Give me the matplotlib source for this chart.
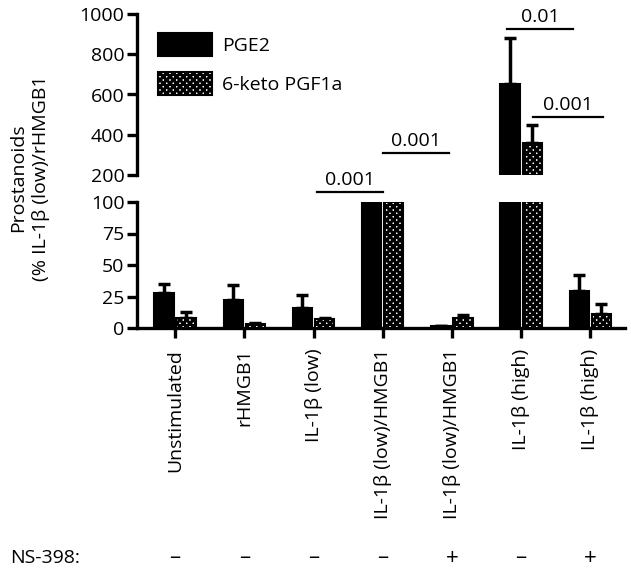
import numpy as np
import matplotlib.pyplot as plt

plt.rcParams['font.family'] = ['Open Sans', 'DejaVu Sans']
plt.rcParams['font.size'] = 14
plt.rcParams['hatch.linewidth'] = 2.2

groups = ["Unstimulated", "rHMGB1", "IL-1β (low)", "IL-1β (low)/HMGB1",
          "IL-1β (low)/HMGB1", "IL-1β (high)", "IL-1β (high)"]
ns398 = ["–", "–", "–", "–", "+", "–", "+"]
pge2 = [28, 22, 16, 100, 1.5, 653, 29]
pge2_err = [7, 12, 10, 0, 0, 229, 13]
keto = [8, 3, 7, 100, 8, 359, 11]
keto_err = [5, 1, 1, 0, 2, 90, 8]

# significance brackets: (x0, x1, y, label, panel)
brackets = [(2.05, 3.0, 108, "0.001", "low"),
            (3.0, 3.96, 309, "0.001", "top"),
            (4.8, 5.75, 926, "0.01", "top"),
            (5.17, 6.18, 489, "0.001", "top")]

x = np.arange(len(groups))
w = 0.28
off = 0.16
fs = 14

fig = plt.figure(figsize=(6.31, 5.72), dpi=100)
L, R = 137 / 631, 625 / 631
ax_top = fig.add_axes([L, 1 - 175 / 572, R - L, (175 - 14) / 572])
ax_low = fig.add_axes([L, 1 - 328 / 572, R - L, (328 - 202) / 572])

for ax in (ax_top, ax_low):
    b1 = ax.bar(x - off, pge2, w, color='black', edgecolor='black', linewidth=1.5,
                label='PGE2', zorder=3)
    b2 = ax.bar(x + off, keto, w, color='white', edgecolor='black', linewidth=1.5,
                hatch='xxxxx', label='6-keto PGF1a', zorder=3)
    ax.errorbar(x - off, pge2, yerr=[np.zeros(len(x)), pge2_err], fmt='none',
                ecolor='black', elinewidth=2.5, capsize=4, capthick=2.5, zorder=2)
    ax.errorbar(x + off, keto, yerr=[np.zeros(len(x)), keto_err], fmt='none',
                ecolor='black', elinewidth=2.5, capsize=4, capthick=2.5, zorder=2)
    ax.set_xlim(-0.55, 6.5)
    for s in ['top', 'right']:
        ax.spines[s].set_visible(False)
    ax.spines['left'].set_linewidth(2.4)
    ax.spines['bottom'].set_linewidth(2.4)
    ax.tick_params(width=2.4, length=7, labelsize=fs, pad=2)

ax_top.set_ylim(200, 1000)
ax_top.set_yticks([200, 400, 600, 800, 1000])
ax_top.spines['bottom'].set_visible(False)
ax_top.set_xticks([])

ax_low.set_ylim(0, 100)
ax_low.set_yticks([0, 25, 50, 75, 100])
ax_low.set_xticks(x)
ax_low.set_xticklabels(groups, rotation=90)
ax_low.tick_params(axis='x', pad=8)

for x0, x1, y, lab, panel in brackets:
    ax = ax_top if panel == "top" else ax_low
    ax.plot([x0, x1], [y, y], color='black', lw=1.6, clip_on=False)
    ax.annotate(lab, ((x0 + x1) / 2, y), xytext=(0, 2), textcoords='offset points',
                ha='center', va='bottom', fontsize=fs, annotation_clip=False)

row_tr = ax_low.get_xaxis_transform().__class__(ax_low.transData, fig.transFigure)
for xi, s in zip(x, ns398):
    ax_low.text(xi, 14 / 572, s, transform=row_tr, ha='center', va='center', fontsize=16)
fig.text(10 / 631, 14 / 572, "NS-398:", ha='left', va='center', fontsize=fs)

fig.text(30 / 631, 1 - 178 / 572, "Prostanoids\n(% IL-1β (low)/rHMGB1", rotation=90,
         ha='center', va='center', multialignment='center', linespacing=1.35, fontsize=fs)

ax_top.legend(handles=[b1, b2], loc='upper left', bbox_to_anchor=(158 / 631, 1 - 33 / 572),
              bbox_transform=fig.transFigure, borderpad=0, borderaxespad=0, frameon=False,
              handlelength=2.8, handleheight=1.45, labelspacing=0.8, handletextpad=0.5,
              fontsize=fs)

fig.savefig('out.png', dpi=100)
